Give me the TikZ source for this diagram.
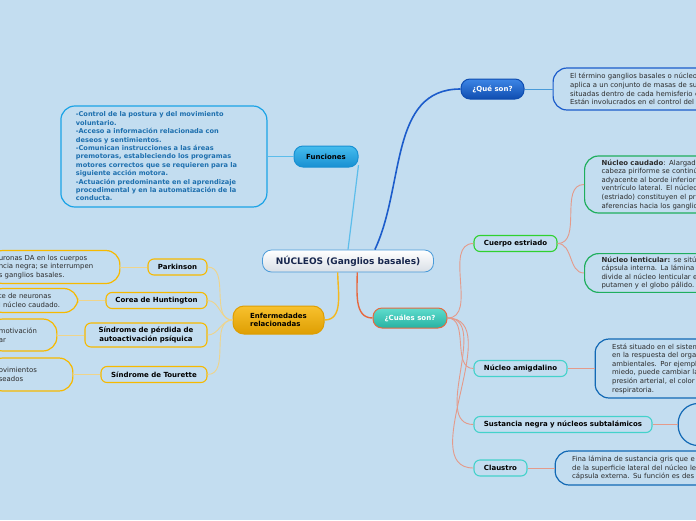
\documentclass[tikz,border=0pt]{standalone}
\usepackage{fontspec}
\setmainfont{DejaVu Sans}
\usetikzlibrary{positioning}
\definecolor{bg}{HTML}{C3DDF0}
\definecolor{rootln}{HTML}{4A9BD9}
\definecolor{rootbot}{HTML}{D9DFE6}
\definecolor{roottx}{HTML}{17264D}
\definecolor{funtop}{HTML}{45BCEE}
\definecolor{funbot}{HTML}{1990D2}
\definecolor{funln}{HTML}{5CBDEB}
\definecolor{funtx}{HTML}{1D6FAE}
\definecolor{funbox}{HTML}{1BA3E6}
\definecolor{quetop}{HTML}{3D86E6}
\definecolor{quebot}{HTML}{0F4DB0}
\definecolor{queln}{HTML}{1C5CCB}
\definecolor{cuatop}{HTML}{5FDCCD}
\definecolor{cuabot}{HTML}{27B2A2}
\definecolor{cualn}{HTML}{E6683F}
\definecolor{cuasub}{HTML}{E49A8A}
\definecolor{grnln}{HTML}{2FD12F}
\definecolor{grnbox}{HTML}{1FAE5E}
\definecolor{tealln}{HTML}{44D2CB}
\definecolor{dblue}{HTML}{1269B5}
\definecolor{enftop}{HTML}{F8C12E}
\definecolor{enfbot}{HTML}{DE9E02}
\definecolor{enfln}{HTML}{F4B81E}
\definecolor{enfsub}{HTML}{EFD48A}
\definecolor{gold}{HTML}{F6B900}
\definecolor{txt}{HTML}{2B2B2B}
\newcommand\bodyfont{\fontsize{6.9}{8.6}\selectfont}
\newcommand\lblfont{\bfseries\fontsize{7}{8.2}\selectfont}
\tikzset{
  n/.style={rounded corners=7pt, align=center, font=\lblfont, inner sep=2pt, line width=1pt},
  root/.style={n, draw=rootln, line width=0.8pt, top color=white, bottom color=rootbot, text=roottx, font=\bfseries\fontsize{9}{10.8}\selectfont, minimum width=171pt, minimum height=22pt, rounded corners=9pt},
  fn/.style={n, draw=funbot, top color=funtop, bottom color=funbot, minimum width=64pt, minimum height=21pt, rounded corners=9pt},
  qn/.style={n, draw=quebot, top color=quetop, bottom color=quebot, text=white, minimum width=63pt, minimum height=20pt, rounded corners=9pt},
  cn/.style={n, draw=cualn, top color=cuatop, bottom color=cuabot, text=white, minimum width=74pt, minimum height=20pt, rounded corners=9pt},
  en/.style={n, draw=enfbot, top color=enftop, bottom color=enfbot, align=left, minimum width=91pt, minimum height=28pt, rounded corners=11pt},
  s/.style={n, fill=bg, minimum height=16pt, rounded corners=6pt, line width=1.1pt},
  sg/.style={s, draw=grnln},
  st/.style={s, draw=tealln},
  sy/.style={s, draw=gold},
  b/.style={rounded corners=14pt, fill=bg, line width=1.2pt, align=left, font=\bodyfont, text=txt, inner xsep=17pt, inner ysep=3pt},
  bl/.style={b, inner xsep=10pt, draw=gold},
  lf/.style={draw=funln, line width=1.2pt},
  lq/.style={draw=queln, line width=1.6pt},
  lc/.style={draw=cualn, line width=1.4pt},
  lcs/.style={draw=cuasub, line width=0.9pt},
  le/.style={draw=enfln, line width=1.4pt},
  les/.style={draw=enfsub, line width=0.9pt},
}
\begin{document}
\begin{tikzpicture}[x=1pt, y=-1pt]
\useasboundingbox (0,0) rectangle (696,520);
\fill[bg] (0,0) rectangle (696,520);
\clip (0,0) rectangle (696,520);

\node[root] (nuc) at (348,261) {NÚCLEOS (Ganglios basales)};
\node[fn] (fun) at (326,156.5) {Funciones};
\node[qn] (que) at (492.5,89) {¿Qué son?};
\node[cn] (cua) at (410,318) {¿Cuáles son?};
\node[en] (enf) at (278.5,320) {Enfermedades\\relacionadas};

\node[b, draw=funbox, text=funtx, font=\bfseries\fontsize{6.6}{8.4}\selectfont, text width=176pt, minimum height=101pt, inner xsep=15pt, left=26pt of fun] (ftx) {-Control de la postura y del movimiento\\voluntario.\\-Acceso a información relacionada con\\deseos y sentimientos.\\-Comunican instrucciones a las áreas\\premotoras, estableciendo los programas\\motores correctos que se requieren para la\\siguiente acción motora.\\-Actuación predominante en el aprendizaje\\procedimental y en la automatización de la\\conducta.};
\node[b, draw=queln, text width=200pt, minimum height=42pt, right=28pt of que] (qtx) {El término ganglios basales o núcleo\\aplica a un conjunto de masas de su\\situadas dentro de cada hemisferio c\\Están involucrados en el control del};

\node[sg, minimum width=83pt] (cue) at (515.5,243.5) {Cuerpo estriado};
\node[st, minimum width=93pt] (ami) at (520.5,368.5) {Núcleo amigdalino};
\node[st, minimum width=178pt] (sus) at (563,424.5) {Sustancia negra y núcleos subtalámicos};
\node[st, minimum width=53pt] (cla) at (500.5,468) {Claustro};
\node[b, draw=grnbox, text width=200pt, minimum height=57pt, anchor=west] (cau) at (584,184.5) {\textbf{Núcleo caudado}: Alargada\\cabeza piriforme se continú\\adyacente al borde inferior\\ventrículo lateral. El núcleo\\(estriado) constituyen el pr\\aferencias hacia los ganglio};
\node[b, draw=grnbox, text width=200pt, minimum height=38pt, anchor=west] (len) at (584,273) {\textbf{Núcleo lenticular:} se sitú\\cápsula interna. La lámina\\divide al núcleo lenticular e\\putamen y el globo pálido.};
\node[b, draw=dblue, text width=200pt, minimum height=59pt, right=27pt of ami] (atx) {Está situado en el sistem\\en la respuesta del orga\\ambientales. Por ejempl\\miedo, puede cambiar la\\presión arterial, el color\\respiratoria.};
\node[b, draw=dblue, minimum width=90pt, minimum height=42pt, rounded corners=20pt, right=25pt of sus] (stx) {};
\node[b, draw=dblue, text width=200pt, minimum height=34pt, right=27pt of cla] (ctx) {Fina lámina de sustancia gris que e\\de la superficie lateral del núcleo le\\cápsula externa. Su función es des};

\node[sy, minimum width=59pt] (par) at (177.5,267) {Parkinson};
\node[sy, minimum width=101pt] (cor) at (156.5,300.5) {Corea de Huntington};
\node[sy, minimum width=122pt, minimum height=24pt] (sin) at (146,335) {Síndrome de pérdida de\\autoactivación psíquica};
\node[sy, minimum width=106pt] (tou) at (154,374.5) {Síndrome de Tourette};
\node[bl, text width=111pt, minimum height=33pt, left=27pt of par] (ptx) {uronas DA en los cuerpos\\ncia negra; se interrumpen\\s ganglios basales.};
\node[bl, text width=69pt, minimum height=24pt, left=27pt of cor] (ctx2) {te de neuronas\\l núcleo caudado.};
\node[bl, text width=48pt, minimum height=32pt, left=27pt of sin] (stx2) {motivación\\ar};
\node[bl, text width=64pt, minimum height=33pt, left=27pt of tou] (ttx) {ovimientos\\seados};

\draw[lf] (nuc.north) -- (fun.-15);
\draw[lf, line width=1pt] (fun.west) -- (ftx.east);
\draw[lq] (nuc.23) to[out=65, in=180] (que.west);
\draw[lq, line width=1pt, draw=rootln] (que.east) -- (qtx.west);
\draw[lc] (nuc.-51) to[out=-90, in=180] (cua.west);
\draw[le] (nuc.-132) to[out=-90, in=0] (enf.east);
\foreach \t in {cue, ami, sus, cla}
  \draw[lcs] (cua.east) to[out=0, in=180] (\t.west);
\foreach \t in {cau, len}
  \draw[lcs] (cue.east) to[out=0, in=180] (\t.west);
\draw[lcs] (ami.east) -- (atx.west);
\draw[lcs] (sus.east) -- (stx.west);
\draw[lcs] (cla.east) -- (ctx.west);
\foreach \t in {par, cor, sin, tou}
  \draw[les] (enf.west) to[out=180, in=0] (\t.east);
\draw[les] (par.west) -- (ptx.east);
\draw[les] (cor.west) -- (ctx2.east);
\draw[les] (sin.west) -- (stx2.east);
\draw[les] (tou.west) -- (ttx.east);
\end{tikzpicture}
\end{document}
